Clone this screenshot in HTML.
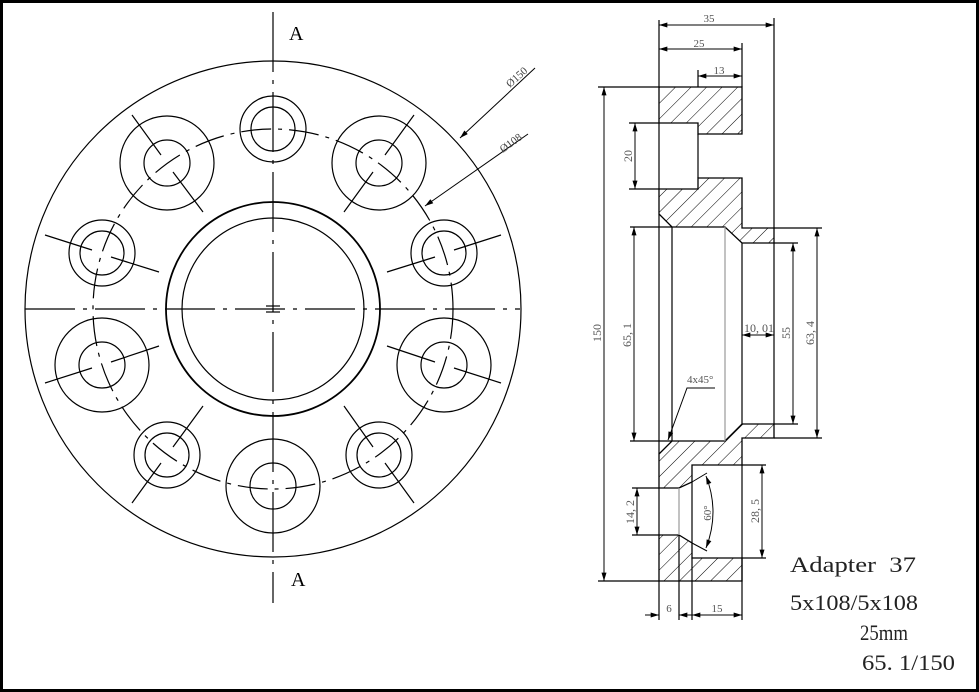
<!DOCTYPE html>
<html><head><meta charset="utf-8"><style>
html,body{margin:0;padding:0;background:#fff}
svg{display:block}
text{font-family:"Liberation Serif",serif}
</style></head><body>
<svg width="979" height="692" viewBox="0 0 979 692" xmlns="http://www.w3.org/2000/svg">
<defs>
<pattern id="h" patternUnits="userSpaceOnUse" width="11" height="11" patternTransform="rotate(45)">
<line x1="0" y1="0" x2="0" y2="11" stroke="#000" stroke-width="1"/>
</pattern>
<marker id="a" viewBox="0 0 10 6" refX="10" refY="3" markerWidth="9" markerHeight="5" orient="auto-start-reverse" markerUnits="userSpaceOnUse"><path d="M0,0 L10,3 L0,6 z" fill="#000"/></marker>
</defs>
<rect x="1.5" y="1.5" width="976" height="689" fill="#fff" stroke="#000" stroke-width="3"/>

<g fill="none" stroke="#000" stroke-width="1.2">
<line x1="273" y1="12" x2="273" y2="603" stroke-dasharray="60 8 4 8"/>
<line x1="25" y1="309" x2="520" y2="309" stroke-dasharray="50 8 4 8"/>
<circle cx="273" cy="309" r="248"/>
<circle cx="273" cy="309" r="107" stroke-width="1.8"/>
<circle cx="273" cy="309" r="91"/>
<circle cx="273" cy="309" r="180" stroke-dasharray="30 7 4 7"/>
<line x1="266" y1="306" x2="280" y2="306"/><line x1="266" y1="312" x2="280" y2="312"/>
<circle cx="273" cy="129" r="33"/><circle cx="273" cy="129" r="22"/>
<circle cx="444" cy="253" r="33"/><circle cx="444" cy="253" r="22"/>
<circle cx="379" cy="455" r="33"/><circle cx="379" cy="455" r="22"/>
<circle cx="167" cy="455" r="33"/><circle cx="167" cy="455" r="22"/>
<circle cx="102" cy="253" r="33"/><circle cx="102" cy="253" r="22"/>
<circle cx="379" cy="163" r="47"/><circle cx="379" cy="163" r="23"/>
<circle cx="444" cy="365" r="47"/><circle cx="444" cy="365" r="23"/>
<circle cx="273" cy="486" r="47"/><circle cx="273" cy="486" r="23"/>
<circle cx="102" cy="365" r="47"/><circle cx="102" cy="365" r="23"/>
<circle cx="167" cy="163" r="47"/><circle cx="167" cy="163" r="23"/>
<path d="M414,115 L385,155 M373,172 L344,212
M501,235 L454,250 M435,257 L387,272
M501,383 L454,368 M435,362 L387,346
M414,503 L385,463 M373,447 L344,406
M132,503 L161,463 M173,447 L203,406
M45,383 L92,368 M111,362 L159,346
M45,235 L92,250 M111,257 L159,272
M132,115 L161,155 M173,172 L203,212"/>
<line x1="535" y1="68" x2="460" y2="138" marker-end="url(#a)" stroke-width="1"/>
<line x1="528" y1="134" x2="425" y2="206" marker-end="url(#a)" stroke-width="1"/>
</g>
<text x="289" y="40" font-size="20">A</text>
<text x="291" y="586" font-size="20">A</text>
<text transform="translate(510,88) rotate(-42)" font-size="11" fill="#444" font-family="Liberation Sans">Ø150</text>
<text transform="translate(503,153) rotate(-36)" font-size="11" fill="#444" font-family="Liberation Sans">Ø108</text>

<g fill="url(#h)" stroke="#000" stroke-width="1.3">
<polygon points="659,87 742,87 742,134 698,134 698,123 659,123"/>
<polygon points="659,189 698,189 698,178 742,178 742,228 774,228 774,243 742,243 725,227 672,227 659,214"/>
<polygon points="659,454 672,441 725,441 742,424 774,424 774,438 742,438 742,465 692,465 692,482 679,488 659,488"/>
<polygon points="659,535 679,535 692,543 692,558 742,558 742,581 659,581"/>
</g>
<g fill="none" stroke="#000" stroke-width="1.2">
<line x1="659" y1="123" x2="659" y2="189"/>
<line x1="698" y1="134" x2="698" y2="178"/>
<line x1="742" y1="243" x2="742" y2="424"/>
<line x1="774" y1="243" x2="774" y2="424"/>
<line x1="672" y1="227" x2="672" y2="441"/>
<line x1="659" y1="214" x2="659" y2="454"/>
<line x1="659" y1="488" x2="659" y2="535"/>
<line x1="692" y1="482" x2="692" y2="543"/>
<line x1="742" y1="465" x2="742" y2="558"/>
<line x1="725" y1="227" x2="725" y2="441" stroke="#999"/>
<line x1="679" y1="488" x2="679" y2="535" stroke="#999"/>
<line x1="659" y1="20" x2="659" y2="87"/>
<line x1="774" y1="18" x2="774" y2="228"/>
<line x1="742" y1="43" x2="742" y2="87"/>
<line x1="698" y1="70" x2="698" y2="87"/>
<line x1="659" y1="581" x2="659" y2="620"/>
<line x1="679" y1="535" x2="679" y2="620"/>
<line x1="692" y1="558" x2="692" y2="620"/>
<line x1="742" y1="558" x2="742" y2="620"/>
<line x1="598" y1="87" x2="659" y2="87"/>
<line x1="598" y1="581" x2="659" y2="581"/>
<line x1="629" y1="123" x2="659" y2="123"/>
<line x1="629" y1="189" x2="659" y2="189"/>
<line x1="630" y1="227" x2="672" y2="227"/>
<line x1="630" y1="441" x2="672" y2="441"/>
<line x1="632" y1="488" x2="659" y2="488"/>
<line x1="632" y1="535" x2="659" y2="535"/>
<line x1="774" y1="228" x2="822" y2="228"/>
<line x1="774" y1="438" x2="822" y2="438"/>
<line x1="774" y1="243" x2="798" y2="243"/>
<line x1="774" y1="424" x2="798" y2="424"/>
<line x1="742" y1="465" x2="766" y2="465"/>
<line x1="742" y1="558" x2="766" y2="558"/>
<line x1="692" y1="482" x2="707" y2="473" stroke-width="1"/>
<line x1="692" y1="543" x2="707" y2="551" stroke-width="1"/>
<path d="M706,476 Q720,512 706,548" stroke-width="1" marker-start="url(#a)" marker-end="url(#a)"/>
</g>
<g stroke="#000" stroke-width="1" fill="none" marker-start="url(#a)" marker-end="url(#a)">
<line x1="659" y1="25" x2="774" y2="25"/>
<line x1="659" y1="49" x2="742" y2="49"/>
<line x1="698" y1="76" x2="742" y2="76"/>
<line x1="604" y1="87" x2="604" y2="581"/>
<line x1="635" y1="123" x2="635" y2="189"/>
<line x1="634" y1="227" x2="634" y2="441"/>
<line x1="793" y1="243" x2="793" y2="424"/>
<line x1="817" y1="228" x2="817" y2="438"/>
<line x1="742" y1="335" x2="774" y2="335"/>
<line x1="637" y1="488" x2="637" y2="535"/>
<line x1="762" y1="465" x2="762" y2="558"/>
</g>
<g stroke="#000" stroke-width="1" fill="none">
<line x1="645" y1="615" x2="659" y2="615" marker-end="url(#a)"/>
<line x1="693" y1="615" x2="679" y2="615" marker-end="url(#a)"/>
<line x1="692" y1="615" x2="742" y2="615" marker-start="url(#a)" marker-end="url(#a)"/>
<polyline points="715,388 687,388 668,440" marker-end="url(#a)"/>
</g>
<g fill="#555" font-size="11" font-family="Liberation Sans">
<text x="709" y="22" text-anchor="middle">35</text>
<text x="699" y="47" text-anchor="middle">25</text>
<text x="719" y="74" text-anchor="middle">13</text>
<text x="669" y="612" text-anchor="middle">6</text>
<text x="717" y="612" text-anchor="middle">15</text>
</g>
<g fill="#555" font-size="12">
<text transform="translate(601,333) rotate(-90)" text-anchor="middle">150</text>
<text transform="translate(632,156) rotate(-90)" text-anchor="middle">20</text>
<text transform="translate(631,335) rotate(-90)" text-anchor="middle">65, 1</text>
<text transform="translate(790,333) rotate(-90)" text-anchor="middle">55</text>
<text transform="translate(814,333) rotate(-90)" text-anchor="middle">63, 4</text>
<text transform="translate(634,512) rotate(-90)" text-anchor="middle">14, 2</text>
<text transform="translate(759,511) rotate(-90)" text-anchor="middle">28, 5</text>
<text transform="translate(711,513) rotate(-90)" text-anchor="middle" font-size="11">60°</text>
<text x="744" y="332">10, 01</text>
<text x="687" y="383" font-size="11">4x45°</text>
</g>
<g fill="#222" font-size="22">
<text x="790" y="572" textLength="126" lengthAdjust="spacingAndGlyphs" xml:space="preserve">Adapter  37</text>
<text x="790" y="610" textLength="128" lengthAdjust="spacingAndGlyphs">5x108/5x108</text>
<text x="860" y="640" textLength="48" lengthAdjust="spacingAndGlyphs">25mm</text>
<text x="862" y="670" textLength="93" lengthAdjust="spacingAndGlyphs">65. 1/150</text>
</g>
</svg>
</body></html>
